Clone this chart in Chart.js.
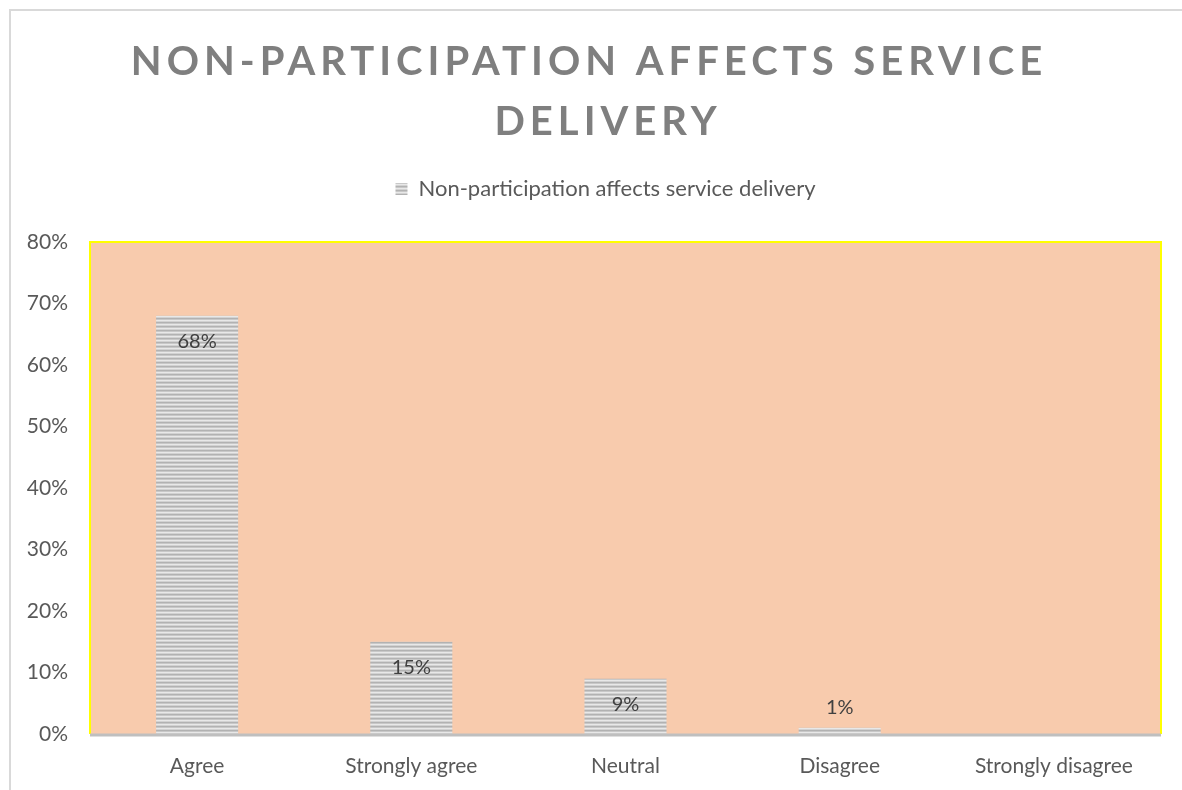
<!DOCTYPE html>
<html>
<head>
<meta charset="utf-8">
<script src="https://cdn.jsdelivr.net/npm/chart.js@4.4.1/dist/chart.umd.min.js"></script>
<style>
  html, body { margin: 0; padding: 0; background: #fff; }
</style>
</head>
<body>
<canvas id="surveyChart" width="1182" height="790"></canvas>
<script>
const categories = ["Agree", "Strongly agree", "Neutral", "Disagree", "Strongly disagree"];
const shares = [68, 15, 9, 1, 0];
const yTicks = [0, 10, 20, 30, 40, 50, 60, 70, 80];
const seriesName = "Non-participation affects service delivery";
const titleLines = ["NON-PARTICIPATION AFFECTS SERVICE", "DELIVERY"];

// horizontal grey stripes used as the bar fill
function stripePattern() {
  const c = document.createElement("canvas");
  c.width = 8;
  c.height = 4;
  const g = c.getContext("2d");
  const rows = ["#e8e8e8", "#d2d2d2", "#b2b2b2", "#c8c8c8"];
  rows.forEach((col, i) => {
    g.fillStyle = col;
    g.fillRect(0, i, 8, 1);
  });
  return document.getElementById("surveyChart").getContext("2d").createPattern(c, "repeat");
}

const frame = {
  id: "frame",
  beforeInit(chart) {
    // leave a gap between the legend and the plot
    const fit = chart.legend.fit;
    chart.legend.fit = function () {
      fit.call(this);
      this.height += 32;
    };
  },
  afterLayout(chart) {
    // centre the legend on the whole chart rather than the padded box
    chart.legend.left += 20;
    chart.legend.right += 20;
  },
  beforeDraw(chart) {
    const { ctx, chartArea: a } = chart;
    ctx.save();
    ctx.fillStyle = "#f8cbad";
    ctx.fillRect(a.left, a.top, a.right - a.left, a.bottom - a.top);

    ctx.strokeStyle = "#d9d9d9";
    ctx.lineWidth = 2;
    ctx.beginPath();
    ctx.moveTo(10, chart.height);
    ctx.lineTo(10, 10);
    ctx.lineTo(chart.width, 10);
    ctx.stroke();

    // wrapped title, second line sits a little right of the first
    ctx.fillStyle = "#7f7f7f";
    ctx.font = "bold 40px Lato";
    ctx.letterSpacing = "5px";
    ctx.textAlign = "center";
    ctx.textBaseline = "middle";
    ctx.fillText(titleLines[0], 589, 62);
    ctx.fillText(titleLines[1], 608, 122);
    ctx.restore();
  },
  afterDatasetsDraw(chart) {
    const { ctx, chartArea: a } = chart;
    const meta = chart.getDatasetMeta(0);
    ctx.save();

    // value labels
    ctx.fillStyle = "#404040";
    ctx.font = "20px Lato";
    ctx.textAlign = "center";
    ctx.textBaseline = "middle";
    meta.data.forEach((bar, i) => {
      const v = shares[i];
      if (!v) return;
      const h = bar.base - bar.y;
      const y = h > 30 ? bar.y + 26 : bar.y - 20;
      ctx.fillText(v + "%", bar.x, y);
    });

    // yellow plot border
    ctx.strokeStyle = "#ffff00";
    ctx.lineWidth = 2;
    ctx.beginPath();
    ctx.moveTo(a.left, a.bottom);
    ctx.lineTo(a.left, a.top);
    ctx.lineTo(a.right, a.top);
    ctx.lineTo(a.right, a.bottom);
    ctx.stroke();

    // category axis line
    ctx.strokeStyle = "#bfbfbf";
    ctx.lineWidth = 3;
    ctx.beginPath();
    ctx.moveTo(a.left, a.bottom + 1);
    ctx.lineTo(a.right, a.bottom + 1);
    ctx.stroke();
    ctx.restore();
  }
};

const ctx = document.getElementById("surveyChart").getContext("2d");
const stripes = stripePattern();

new Chart(ctx, {
  type: "bar",
  data: {
    labels: categories,
    datasets: [{
      label: seriesName,
      data: shares,
      backgroundColor: stripes,
      borderWidth: 0,
      categoryPercentage: 1,
      barPercentage: 0.383
    }]
  },
  options: {
    responsive: false,
    animation: false,
    layout: { padding: { top: 168, left: 10, right: 21, bottom: 0 } },
    plugins: {
      legend: {
        position: "top",
        labels: {
          color: "#595959",
          font: { family: "Lato", size: 22 },
          boxWidth: 12,
          boxHeight: 12,
          padding: 10
        }
      },
      title: { display: false },
      tooltip: { enabled: false }
    },
    scales: {
      x: {
        grid: { display: false },
        border: { display: false },
        ticks: { color: "#595959", font: { family: "Lato", size: 21 }, padding: 12 },
        afterFit: s => { s.height = 56; }
      },
      y: {
        min: 0,
        max: 80,
        grid: { display: false },
        border: { display: false },
        afterBuildTicks: axis => { axis.ticks = yTicks.map(v => ({ value: v })); },
        ticks: {
          color: "#595959",
          font: { family: "Lato", size: 21 },
          padding: 14,
          callback: v => v + "%"
        },
        afterFit: s => { s.width = 80; }
      }
    }
  },
  plugins: [frame]
});
</script>
</body>
</html>
